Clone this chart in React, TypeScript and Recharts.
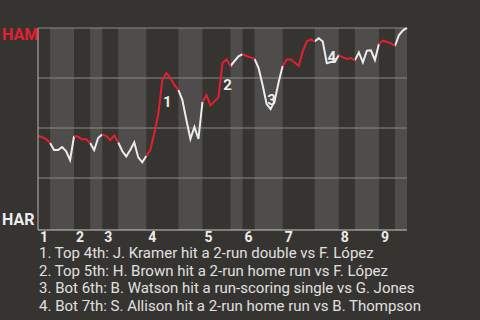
import { LineChart, Line, XAxis, YAxis, ReferenceArea, ReferenceLine, ReferenceDot } from "recharts"

// HAM win probability after each play
const hamWinProb = [
    0.46, 0.455, 0.445, 0.425, 0.39, 0.39, 0.405, 0.385, 0.34, 0.46,
    0.456, 0.443, 0.445, 0.425, 0.39, 0.45, 0.468, 0.46, 0.44, 0.463,
    0.428, 0.385, 0.358, 0.39, 0.428, 0.353, 0.328, 0.36, 0.39, 0.475,
    0.57, 0.74, 0.775, 0.75, 0.715, 0.69, 0.64, 0.54, 0.445, 0.505,
    0.445, 0.63, 0.665, 0.613, 0.633, 0.653, 0.825, 0.843, 0.81, 0.835,
    0.858, 0.869, 0.86, 0.853, 0.845, 0.8, 0.715, 0.62, 0.594, 0.635,
    0.73, 0.81, 0.843, 0.843, 0.828, 0.81, 0.883, 0.933, 0.943, 0.933,
    0.949, 0.932, 0.824, 0.83, 0.83, 0.865, 0.853, 0.845, 0.85, 0.838,
    0.878, 0.828, 0.887, 0.888, 0.84, 0.92, 0.937, 0.93, 0.923, 0.91,
    0.965, 0.988, 1.0,
]

// play index where each half inning starts (last one = final play)
const halfInningBounds = [0, 3, 9, 13, 16, 20, 27, 35, 41, 48, 51, 54, 61, 69, 75, 79, 85, 89, 92]
const inningLabels = ["1", "2", "3", "4", "5", "6", "7", "8", "9"]
const gridValues = [0.25, 0.5, 0.75, 1]

const keyPlays = [31, 46, 57, 72]
const keyPlayNotes = [
    "Top 4th: J. Kramer hit a 2-run double vs F. López",
    "Top 5th: H. Brown hit a 2-run home run vs F. López",
    "Bot 6th: B. Watson hit a run-scoring single vs G. Jones",
    "Bot 7th: S. Allison hit a 2-run home run vs B. Thompson",
]

const RED = "#e5202e"
const WHITE = "#ececec"
const BG = "#363431"
const BAND = "#4e4d4b"
const FONT = "Roboto, 'Noto Sans', sans-serif"

const data = hamWinProb.map((v, i) => {
    let top: number | null = null
    let bot: number | null = null
    for (let k = 0; k < halfInningBounds.length - 1; k++) {
        if (i >= halfInningBounds[k] && i <= halfInningBounds[k + 1]) {
            if (k % 2 === 0) top = v
            else bot = v
        }
    }
    return { play: i, top, bot }
})

const inningStarts = halfInningBounds.filter((_, k) => k % 2 === 0).slice(0, inningLabels.length)
const lastPlay = halfInningBounds[halfInningBounds.length - 1]

function InningTick(props: any) {
    const { x, y, payload } = props
    const idx = inningStarts.indexOf(payload.value)
    return (
        <text x={x + 2} y={y + 12} textAnchor="start" fill={WHITE} fontSize={14} fontWeight="bold" fontFamily={FONT}>
            {inningLabels[idx]}
        </text>
    )
}

function TeamTick(props: any) {
    const { y, payload } = props
    const isHam = payload.value === 1
    return (
        <text x={2} y={isHam ? y + 12 : y - 3} textAnchor="start" fill={isHam ? RED : WHITE}
            fontSize={16} fontWeight="bold" fontFamily={FONT}>
            {isHam ? "HAM" : "HAR"}
        </text>
    )
}

export default function App() {
    return (
        <div style={{ position: "fixed", left: 0, top: 0, width: 480, height: 320, background: BG, overflow: "hidden" }}>
            <LineChart width={480} height={245} data={data} margin={{ top: 28, right: 73, bottom: 0, left: 0 }}>
                <XAxis type="number" dataKey="play" domain={[0, lastPlay]} ticks={inningStarts} interval={0}
                    tickLine={false} tickSize={0} tickMargin={0} height={15} axisLine={{ stroke: "#c8c8c8" }}
                    tick={<InningTick />} />
                <YAxis type="number" domain={[-0.01, 1]} ticks={[0, 1]} width={38} tickLine={false}
                    tickSize={0} tickMargin={0} axisLine={{ stroke: "#b8b8b8" }} tick={<TeamTick />} />
                {halfInningBounds.slice(0, -1).map((b, k) =>
                    k % 2 === 1 ? (
                        <ReferenceArea key={"band" + k} x1={b} x2={halfInningBounds[k + 1]} y1={-0.01} y2={1}
                            fill={BAND} fillOpacity={1} stroke="none" />
                    ) : null
                )}
                {gridValues.map((g) => (
                    <ReferenceLine key={"g" + g} y={g} stroke="#8a8986" strokeWidth={1} />
                ))}
                <Line type="linear" dataKey="bot" stroke={WHITE} strokeWidth={2} dot={false}
                    isAnimationActive={false} connectNulls={false} />
                <Line type="linear" dataKey="top" stroke={RED} strokeWidth={2} dot={false}
                    isAnimationActive={false} connectNulls={false} />
                {keyPlays.map((p, n) => (
                    <ReferenceDot key={"kp" + n} x={p - 0.5} y={(hamWinProb[p - 1] + hamWinProb[p]) / 2} r={1}
                        fill="none" stroke="none"
                        label={{
                            value: String(n + 1),
                            content: (lp: any) => {
                                const vb = lp.viewBox
                                return (
                                    <text x={vb.x + vb.width / 2 + 7} y={vb.y + vb.height / 2 + 5}
                                        textAnchor="middle" dominantBaseline="central" fill={WHITE}
                                        fontSize={15} fontWeight="bold" fontFamily={FONT}>
                                        {n + 1}
                                    </text>
                                )
                            },
                        }} />
                ))}
            </LineChart>
            <div style={{ position: "absolute", left: 39, top: 245, fontFamily: FONT, fontSize: 15, lineHeight: "17.7px", color: "#e0e0e0", whiteSpace: "nowrap" }}>
                {keyPlayNotes.map((t, i) => (
                    <div key={i}>{i + 1}. {t}</div>
                ))}
            </div>
        </div>
    )
}
